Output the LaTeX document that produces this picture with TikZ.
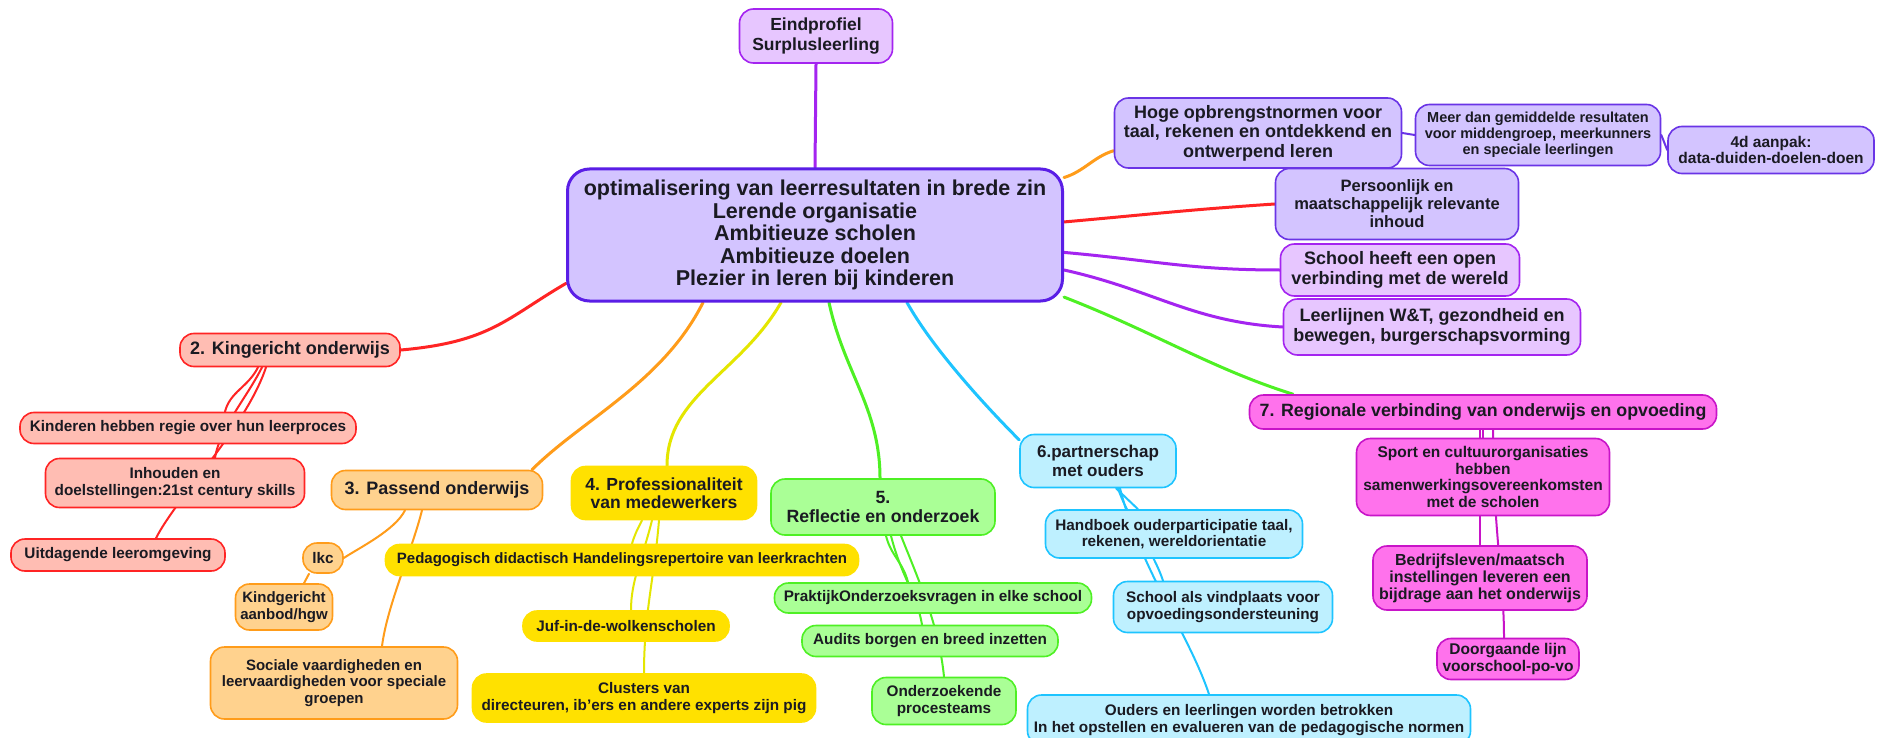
\documentclass[tikz,border=0pt]{standalone}
\usepackage{fontspec}
\setmainfont{Liberation Sans}
\usetikzlibrary{backgrounds}
\definecolor{mmink}{HTML}{1A1A22}
\definecolor{mmlav}{HTML}{D3C4FF}
\definecolor{mmblue}{HTML}{5A1EE6}
\definecolor{mmviolet}{HTML}{6A34E6}
\definecolor{mmlilac}{HTML}{E7C6FF}
\definecolor{mmpurple}{HTML}{A424F0}
\definecolor{mmpink}{HTML}{FF72EC}
\definecolor{mmmag}{HTML}{C814C8}
\definecolor{mmsky}{HTML}{BEF0FF}
\definecolor{mmcyan}{HTML}{1EC4FF}
\definecolor{mmmint}{HTML}{AAFF96}
\definecolor{mmgreen}{HTML}{4EF024}
\definecolor{mmgold}{HTML}{FFE100}
\definecolor{mmlime}{HTML}{E4E600}
\definecolor{mmpeach}{HTML}{FFD28E}
\definecolor{mmorange}{HTML}{FF9C1A}
\definecolor{mmrose}{HTML}{FFBDB3}
\definecolor{mmred}{HTML}{FF2424}
\newcommand{\fz}[2]{\fontsize{#1}{#2}\selectfont\bfseries}

\begin{document}
\begin{tikzpicture}[x=1pt, y=-1pt,
  b/.style={rounded corners=14pt, align=center, inner sep=2pt, line width=1.6pt, text=mmink, font=\fz{15.3}{16.5}},
  wh/.style 2 args={minimum width=#1pt, minimum height=#2pt},
  hub/.style={b, draw=mmblue, fill=mmlav, line width=3pt, rounded corners=22pt},
  lav/.style={b, draw=mmviolet, fill=mmlav},
  lil/.style={b, draw=mmpurple, fill=mmlilac},
  mag/.style={b, draw=mmmag, fill=mmpink},
  sky/.style={b, draw=mmcyan, fill=mmsky},
  mint/.style={b, draw=mmgreen, fill=mmmint},
  yel/.style={b, draw=mmgold, fill=mmgold},
  ora/.style={b, draw=mmorange, fill=mmpeach},
  ros/.style={b, draw=mmred, fill=mmrose},
  lk/.style={line width=3pt, line cap=round},
  lks/.style={line width=2pt, line cap=round}]
  \useasboundingbox (0,0) rectangle (1878,738);

  \node[hub, wh={495}{132}, font=\fz{21.5}{22.5}] (core) at (815,235) {optimalisering van leerresultaten in brede zin\\Lerende organisatie\\Ambitieuze scholen\\Ambitieuze doelen\\Plezier in leren bij kinderen};
  \node[lil, wh={153}{54}, font=\fz{17.5}{20}] (eind) at (816,36) {Eindprofiel\\Surplusleerling};

  \node[lav, wh={287}{70}, font=\fz{18}{19.5}] (hoge) at (1258,133) {Hoge opbrengstnormen voor\\taal, rekenen en ontdekkend en\\ontwerpend leren};
  \node[lav, wh={245}{61}, font=\fz{14.5}{16}] (meer) at (1538,135) {Meer dan gemiddelde resultaten\\voor middengroep, meerkunners\\en speciale leerlingen};
  \node[lav, wh={206}{47}, font=\fz{15.5}{16.5}] (vierd) at (1771,150) {4d aanpak:\\data-duiden-doelen-doen};
  \node[lav, wh={243}{71}, font=\fz{16.5}{18}] (pers) at (1397,204) {Persoonlijk en\\maatschappelijk relevante\\inhoud};
  \node[lil, wh={239}{52}, font=\fz{18}{19.5}] (open) at (1400,270) {School heeft een open\\verbinding met de wereld};
  \node[lil, wh={297}{56}, font=\fz{18}{19.5}] (leerl) at (1432,327) {Leerlijnen W\&T, gezondheid en\\bewegen, burgerschapsvorming};

  \node[mag, wh={467}{34}, font=\fz{17.8}{19}] (regio) at (1483,412) {7. Regionale verbinding van onderwijs en opvoeding};
  \node[mag, wh={253}{77}, font=\fz{15.5}{16.5}] (sport) at (1483,477) {Sport en cultuurorganisaties\\hebben\\samenwerkingsovereenkomsten\\met de scholen};
  \node[mag, wh={214}{64}, font=\fz{16}{17}] (bedr) at (1480,578) {Bedrijfsleven/maatsch\\instellingen leveren een\\bijdrage aan het onderwijs};
  \node[mag, wh={142}{41}, font=\fz{15.5}{16.5}] (doorg) at (1508,659) {Doorgaande lijn\\voorschool-po-vo};

  \node[sky, wh={156}{53}, font=\fz{17}{19}] (partn) at (1098,461) {6.partnerschap\\met ouders};
  \node[sky, wh={257}{48}, font=\fz{15.3}{16}] (handb) at (1174,534) {Handboek ouderparticipatie taal,\\rekenen, wereldorientatie};
  \node[sky, wh={219}{51}] (vindpl) at (1223,607) {School als vindplaats voor\\opvoedingsondersteuning};
  \node[sky, wh={443}{50}] (ouders) at (1249,720) {Ouders en leerlingen worden betrokken\\In het opstellen en evalueren van de pedagogische normen};

  \node[mint, wh={224}{56}, font=\fz{17.7}{19}] (refl) at (883,507) {5.\\Reflectie en onderzoek};
  \node[mint, wh={317}{30}] (prakt) at (933,598) {PraktijkOnderzoeksvragen in elke school};
  \node[mint, wh={256}{31}] (audits) at (930,641) {Audits borgen en breed inzetten};
  \node[mint, wh={144}{47}] (onderz) at (944,701) {Onderzoekende\\procesteams};

  \node[yel, wh={185}{53}, font=\fz{17.5}{18.5}] (prof) at (664,493) {4. Professionaliteit\\van medewerkers};
  \node[yel, wh={473}{31}, font=\fz{15}{16}] (pedag) at (622,560) {Pedagogisch didactisch Handelingsrepertoire van leerkrachten};
  \node[yel, wh={206}{30}] (juf) at (626,626) {Juf-in-de-wolkenscholen};
  \node[yel, wh={343}{48}] (clust) at (644,698) {Clusters van\\directeuren, ib'ers en andere experts zijn pig};

  \node[ora, wh={211}{39}, font=\fz{18}{19}] (passend) at (437,490) {3. Passend onderwijs};
  \node[ora, wh={40}{30}] (lkc) at (323,558) {lkc};
  \node[ora, wh={97}{46}, font=\fz{15}{16.5}] (kindg) at (284,607) {Kindgericht\\aanbod/hgw};
  \node[ora, wh={247}{72}, font=\fz{15}{16.5}] (sociale) at (334,683) {Sociale vaardigheden en\\leervaardigheden voor speciale\\groepen};

  \node[ros, wh={220}{33}, font=\fz{18}{19}] (kinger) at (290,350) {2. Kingericht onderwijs};
  \node[ros, wh={336}{31}] (regie) at (188,428) {Kinderen hebben regie over hun leerproces};
  \node[ros, wh={259}{49}] (inhoud) at (175,483) {Inhouden en\\doelstellingen:21st century skills};
  \node[ros, wh={214}{32}] (uitdag) at (118,555) {Uitdagende leeromgeving};

  \begin{scope}[on background layer]
    \fill[white] (0,0) rectangle (1878,738);
    \draw[lk, mmpurple] (eind.south) -- (core.north);
    \draw[lk, mmorange] (core.13) .. controls +(20,-6) and +(-20,6) .. (hoge.187);
    \draw[lk, mmred] (core.3) .. controls +(90,-8) and +(-90,6) .. (pers.west);
    \draw[lk, mmpurple] (core.-4) .. controls +(90,8) and +(-90,0) .. (open.west);
    \draw[lk, mmpurple] (core.-8.5) .. controls +(90,20) and +(-90,-5) .. (leerl.west);
    \draw[lk, mmgreen] (core.-14) .. controls +(90,35) and +(-80,-25) .. ([xshift=-190pt]regio.north);
    \draw[lk, mmcyan] ([xshift=92pt]core.south) .. controls +(25,45) and +(-35,-35) .. (partn.165);
    \draw[lk, mmgreen] ([xshift=14pt]core.south) .. controls +(15,70) and +(0,-70) .. ([xshift=-3pt]refl.north);
    \draw[lk, mmlime] ([xshift=-34pt]core.south) .. controls +(-40,70) and +(0,-70) .. ([xshift=3pt]prof.north);
    \draw[lk, mmorange] ([xshift=-112pt]core.south) .. controls +(-40,80) and +(50,-50) .. ([xshift=95pt]passend.north);
    \draw[lk, mmred] (core.191) .. controls +(-60,35) and +(90,-8) .. (kinger.east);

    \draw[lks, mmviolet] (hoge.east) -- (meer.west);
    \draw[lks, mmviolet] (meer.east) -- (vierd.west);

    \draw[lks, mmred] ([xshift=-32pt]kinger.south) .. controls +(-10,20) and +(5,-20) .. ([xshift=37pt]regie.north);
    \draw[lks, mmred] ([xshift=-28pt]kinger.south) .. controls +(-15,30) and +(5,-30) .. ([xshift=40pt]inhoud.north);
    \draw[lks, mmred] ([xshift=-24pt]kinger.south) .. controls +(-20,60) and +(20,-40) .. ([xshift=38pt]uitdag.north);

    \draw[lks, mmorange] ([xshift=-32pt]passend.south) .. controls +(-10,20) and +(15,-10) .. (lkc.east);
    \draw[lks, mmorange] ([xshift=-15pt]passend.south) .. controls +(-10,40) and +(5,-40) .. ([xshift=48pt]sociale.north);
    \draw[lks, mmorange] ([xshift=-14pt]lkc.south) -- ([xshift=20pt]kindg.north);

    \draw[lks, mmlime] ([xshift=-22pt]prof.south) .. controls +(-5,10) and +(3,-10) .. ([xshift=10pt]pedag.north);
    \draw[lks, mmlime] ([xshift=-12pt]prof.south) .. controls +(-10,40) and +(0,-30) .. ([xshift=5pt]juf.north);
    \draw[lks, mmlime] ([xshift=-5pt]prof.south) .. controls +(-5,60) and +(0,-60) .. (clust.north);

    \draw[lks, mmgreen] ([xshift=3pt]refl.south) .. controls +(5,20) and +(-5,-20) .. ([xshift=-25pt]prakt.north);
    \draw[lks, mmgreen] ([xshift=8pt]refl.south) .. controls +(10,40) and +(-5,-30) .. ([xshift=-8pt]audits.north);
    \draw[lks, mmgreen] ([xshift=18pt]refl.south) .. controls +(20,50) and +(-5,-50) .. (onderz.north);

    \draw[lks, mmcyan] ([xshift=18pt]partn.south) -- ([xshift=-36pt]handb.north);
    \draw[lks, mmcyan] ([xshift=20pt]partn.south) .. controls +(10,30) and +(-10,-30) .. ([xshift=-60pt]vindpl.north);
    \draw[lks, mmcyan] ([xshift=22pt]partn.south) .. controls +(20,80) and +(-20,-60) .. ([xshift=-40pt]ouders.north);

    \draw[lks, mmmag] (regio.south) -- (sport.north);
    \draw[lks, mmmag] ([xshift=-3pt]regio.south) -- (bedr.north);
    \draw[lks, mmmag] ([xshift=10pt]regio.south) .. controls +(0,100) and +(0,-60) .. ([xshift=-4pt]doorg.north);
  \end{scope}
\end{tikzpicture}
\end{document}
